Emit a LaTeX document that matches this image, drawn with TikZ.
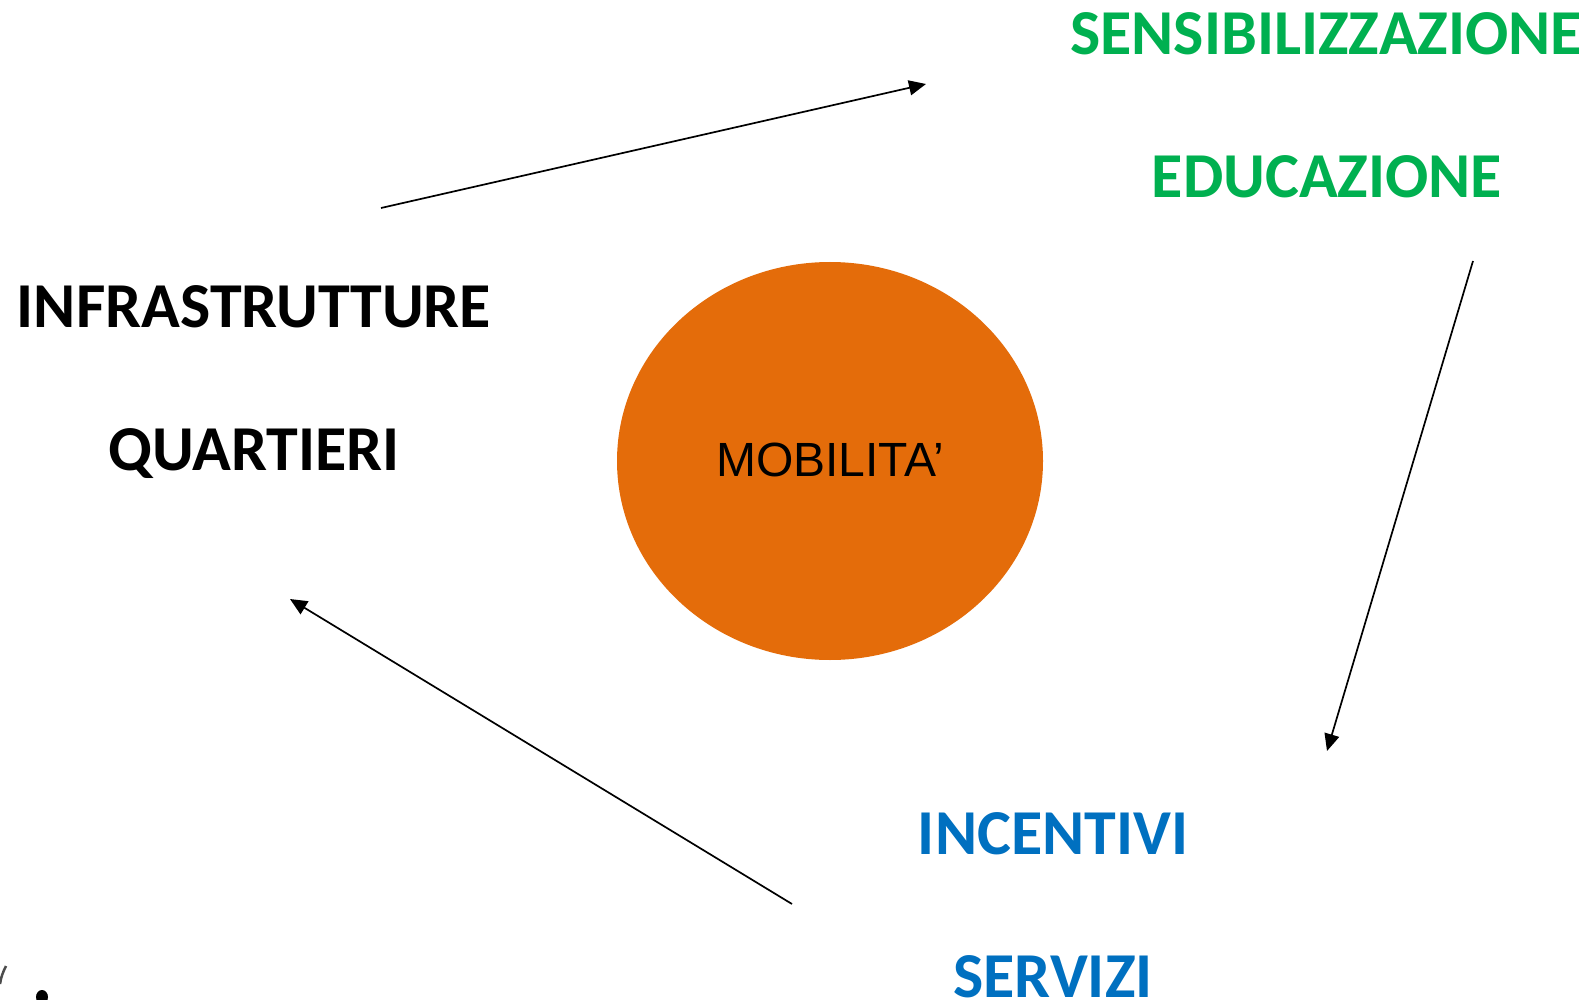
\documentclass[tikz,border=0pt]{standalone}
\usepackage{fontspec}
\setmainfont{Carlito}
\newfontfamily\arialfont{Liberation Sans}
\usetikzlibrary{arrows.meta,shapes.geometric}
\definecolor{greenT}{HTML}{00B050}
\definecolor{blueT}{HTML}{0070C0}
\definecolor{orangeC}{HTML}{E46C0A}
\tikzset{x=1pt,y=-1pt,
 lab/.style={font=\fontsize{64}{64}\selectfont\bfseries,inner sep=0pt,anchor=base},
 conn/.style={draw=black,line width=1.7pt,-{Triangle[length=17pt,width=15pt]}}}
\begin{document}
\begin{tikzpicture}
\useasboundingbox (0,0) rectangle (1592,1000);
\fill[white] (0,0) rectangle (1592,1000);
\node[ellipse,fill=orangeC,minimum width=426pt,minimum height=398pt,inner sep=0pt] (circ) at (830,461) {};
\node[inner sep=0pt,font=\arialfont\fontsize{48}{48}\selectfont] (mob) at (830,460) {MOBILITA’};
\node[lab,text=greenT] (sens) at (1326,55) {SENSIBILIZZAZIONE};
\node[lab,text=greenT] (edu) at (1327,198) {EDUCAZIONE};
\node[lab,text=black] (infra) at (254,327) {INFRASTRUTTURE};
\node[lab,text=black] (quart) at (254,470) {QUARTIERI};
\node[lab,text=blueT] (inc) at (1053,854) {INCENTIVI};
\node[lab,text=blueT] (serv) at (1053,997) {SERVIZI};
\coordinate (a1) at (381,208); \coordinate (a2) at (926,84);
\coordinate (b1) at (1473,261); \coordinate (b2) at (1327,751);
\coordinate (c1) at (792,904); \coordinate (c2) at (290,599);
\draw[conn] (a1) -- (a2);
\draw[conn] (b1) -- (b2);
\draw[conn] (c1) -- (c2);
\draw[black!70,line width=2.5pt] (0,984) .. controls (1,977) and (3,972) .. (6,966);
\fill[black] (42,997) ellipse (6pt and 7pt);
\end{tikzpicture}
\end{document}
